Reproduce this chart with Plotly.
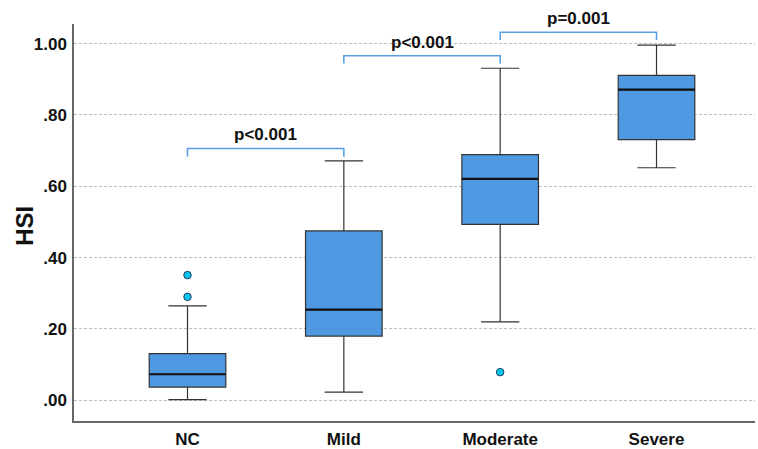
import plotly.graph_objects as go

categories = ["NC", "Mild", "Moderate", "Severe"]
lower_whisker = [0.002, 0.023, 0.220, 0.652]
q1 = [0.037, 0.180, 0.493, 0.731]
median = [0.073, 0.254, 0.621, 0.871]
q3 = [0.131, 0.475, 0.689, 0.911]
upper_whisker = [0.265, 0.671, 0.931, 0.996]

outlier_cats = ["NC", "NC", "Moderate"]
outlier_vals = [0.351, 0.290, 0.079]

# significance brackets: (from category index, to category index, height, label)
bracket_from = [0, 1, 2]
bracket_to = [1, 2, 3]
bracket_top = [0.706, 0.966, 1.032]
bracket_drop = [0.023, 0.022, 0.022]
bracket_labels = ["p<0.001", "p<0.001", "p=0.001"]

ytick_vals = [0.0, 0.2, 0.4, 0.6, 0.8, 1.0]
ytick_text = [".00", ".20", ".40", ".60", ".80", "1.00"]

BOX_FILL = "#4f98e2"
BOX_LINE = "#333333"
BRACKET = "#5a9fe6"
FONT = "Arial, Liberation Sans, sans-serif"
BOX_W = 0.49

fig = go.Figure()
for i, c in enumerate(categories):
    fig.add_trace(go.Box(
        x=[c], q1=[q1[i]], median=[median[i]], q3=[q3[i]],
        lowerfence=[lower_whisker[i]], upperfence=[upper_whisker[i]],
        fillcolor=BOX_FILL, line=dict(color=BOX_LINE, width=1.2),
        width=BOX_W, whiskerwidth=0.5, boxpoints=False, showlegend=False,
        hoverinfo="skip"))

fig.add_trace(go.Scatter(
    x=outlier_cats, y=outlier_vals, mode="markers",
    marker=dict(color="#08c6f0", size=7.5, line=dict(color="#1d3c5c", width=1)),
    showlegend=False, hoverinfo="skip"))

shapes = []
# thicker median lines
for i in range(len(categories)):
    shapes.append(dict(type="line", xref="x", yref="y",
                       x0=i - BOX_W / 2, x1=i + BOX_W / 2,
                       y0=median[i], y1=median[i],
                       line=dict(color="#111111", width=2.2)))

annotations = []
for a, b, h, d, lab in zip(bracket_from, bracket_to, bracket_top, bracket_drop, bracket_labels):
    shapes.append(dict(type="path", xref="x", yref="y",
                       path=f"M {a},{h - d} L {a},{h} L {b},{h} L {b},{h - d}",
                       line=dict(color=BRACKET, width=1.6)))
    annotations.append(dict(x=(a + b) / 2, y=h, xref="x", yref="y",
                            text=f"<b>{lab}</b>", showarrow=False, yanchor="bottom",
                            yshift=2, font=dict(family=FONT, size=17, color="#111111")))

annotations.append(dict(x=-0.073, y=0.49, xref="paper", yref="y", text="<b>HSI</b>",
                        textangle=-90, showarrow=False, xanchor="center", yanchor="middle",
                        font=dict(family=FONT, size=24, color="#111111")))

fig.update_layout(
    width=758, height=449,
    margin=dict(l=74, r=3, t=24, b=28),
    paper_bgcolor="white", plot_bgcolor="white",
    shapes=shapes, annotations=annotations,
    xaxis=dict(type="category", categoryorder="array", categoryarray=categories,
               range=[-0.726, 3.63], showgrid=False, showline=True,
               linecolor="#666666", linewidth=1.5, ticks="", zeroline=False,
               tickfont=dict(family=FONT, size=17, color="#111111"),
               ticklabelstandoff=2, automargin=False,
               tickvals=categories, ticktext=[f"<b>{c}</b>" for c in categories]),
    yaxis=dict(range=[-0.058, 1.055], tickvals=ytick_vals,
               ticktext=[f"<b>{t}</b>" for t in ytick_text],
               tickfont=dict(family=FONT, size=17, color="#111111"),
               showgrid=True, gridcolor="#bdbdbd", gridwidth=1, griddash="3px,2px",
               showline=True, linecolor="#666666", linewidth=1.5, ticks="",
               zeroline=False, ticklabelstandoff=2, automargin=False),
)

fig.write_html("out.html", config={"displayModeBar": False},
               post_script="document.body.style.margin='0';document.body.style.overflow='hidden';")
